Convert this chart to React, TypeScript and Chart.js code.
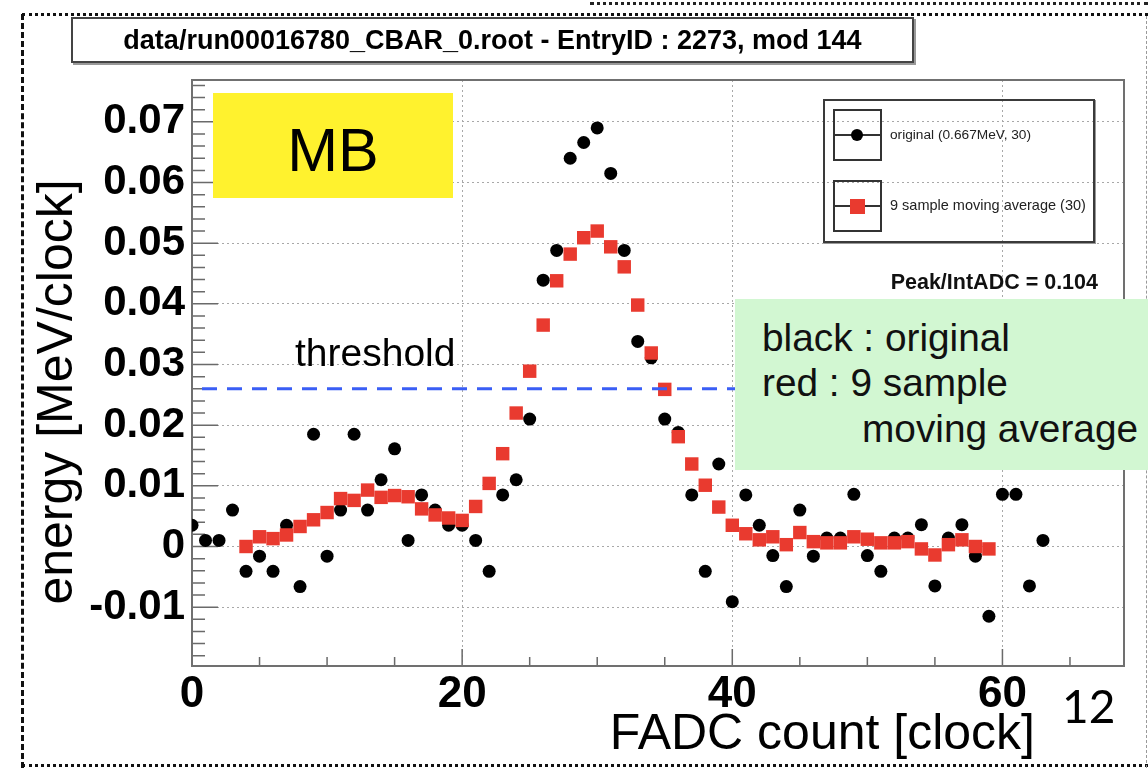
import React, { useEffect, useRef } from 'react';
import { Chart, registerables } from 'chart.js';

Chart.register(...registerables);

// ---------- data ----------
const ORIGINAL_START = 0;
const ORIGINAL = [
  0.0035, 0.001, 0.001, 0.006, -0.0041, -0.0016, -0.0041, 0.0035, -0.0066, 0.0185,
  -0.0016, 0.006, 0.0185, 0.006, 0.011, 0.0161, 0.001, 0.0085, 0.006, 0.0035,
  0.0035, 0.001, -0.0041, 0.0085, 0.011, 0.021, 0.0439, 0.0488, 0.064, 0.0666,
  0.069, 0.0615, 0.0488, 0.0338, 0.0311, 0.021, 0.0188, 0.0085, -0.0041, 0.0136,
  -0.0091, 0.0085, 0.0035, -0.0015, -0.0066, 0.006, -0.0016, 0.0014, 0.0014, 0.0086,
  -0.0015, -0.0041, 0.0014, 0.0014, 0.0036, -0.0065, 0.0014, 0.0036, -0.0016, -0.0115,
  0.0086, 0.0086, -0.0065, 0.001,
];

const MOVING_AVG_START = 4;
const MOVING_AVG = [
  0.0, 0.0016, 0.0013, 0.0019, 0.0033, 0.0044, 0.0056, 0.0079, 0.0076, 0.0093,
  0.0081, 0.0084, 0.0082, 0.0062, 0.0052, 0.0047, 0.0043, 0.0066, 0.0104, 0.0153,
  0.022, 0.0289, 0.0365, 0.0438, 0.0482, 0.0509, 0.052, 0.0494, 0.0461, 0.0398,
  0.0319, 0.0259, 0.0181, 0.0136, 0.0101, 0.0065, 0.0035, 0.0021, 0.0011, 0.0016,
  0.0003, 0.0023, 0.0008, 0.0006, 0.0006, 0.0016, 0.0012, 0.0006, 0.0006, 0.0008,
  -0.0004, -0.0014, 0.0003, 0.0011, 0.0, -0.0004,
];

const THRESHOLD = 0.026;
const X_TICKS = [0, 20, 40, 60];
const Y_TICKS = [-0.01, 0, 0.01, 0.02, 0.03, 0.04, 0.05, 0.06, 0.07];
const X_MIN = 0;
const X_MAX = 69;
const Y_MIN = -0.0197;
const Y_MAX = 0.0769;
const X_MINOR_STEP = 5;
const Y_MINOR_STEP = 0.002;

const TITLE = 'data/run00016780_CBAR_0.root - EntryID : 2273, mod 144';
const LEGEND_ORIGINAL = 'original (0.667MeV, 30)';
const LEGEND_AVG = '9 sample moving average (30)';
const PEAK_TEXT = 'Peak/IntADC = 0.104';
const X_TITLE = 'FADC count [clock]';
const Y_TITLE = 'energy [MeV/clock]';

const FONT = '"Liberation Sans", Arial, Helvetica, sans-serif';
const RED = '#e93a2f';
const W = 1148;
const H = 768;

// ---------- plugin: ROOT-like frame with inner ticks ----------
const frameTicks = {
  id: 'frameTicks',
  beforeDatasetsDraw(chart: any) {
    const { ctx, chartArea: a, scales } = chart;
    const x = scales.x;
    const y = scales.y;
    ctx.save();
    ctx.strokeStyle = '#6a6a6a';
    ctx.lineWidth = 1.5;
    ctx.beginPath();
    for (let v = X_MIN; v <= X_MAX + 1e-9; v += X_MINOR_STEP) {
      const px = x.getPixelForValue(v);
      const len = X_TICKS.includes(v) ? 17 : 9;
      ctx.moveTo(px, a.bottom);
      ctx.lineTo(px, a.bottom - len);
    }
    const k0 = Math.ceil(Y_MIN / Y_MINOR_STEP - 1e-9);
    for (let k = k0; k * Y_MINOR_STEP <= Y_MAX + 1e-9; k++) {
      const v = k * Y_MINOR_STEP;
      const major = k % 5 === 0;
      const py = y.getPixelForValue(v);
      ctx.moveTo(a.left, py);
      ctx.lineTo(a.left + (major ? 26 : 13), py);
    }
    ctx.stroke();
    ctx.lineWidth = 2;
    ctx.strokeStyle = '#707070';
    ctx.strokeRect(a.left, a.top, a.right - a.left, a.bottom - a.top);
    ctx.restore();
  },
};

// ---------- text helper (positions by baseline) ----------
function Txt(props: {
  x: number; base: number; size: number; weight?: any; align?: 'left' | 'right' | 'center';
  family?: string; color?: string; children: any;
}) {
  const { x, base, size, weight = 'normal', align = 'left', family = FONT, color = '#000' } = props;
  const top = base - 0.8465 * size;
  const style: any = {
    position: 'absolute', top, fontSize: size, lineHeight: `${size}px`, fontFamily: family,
    fontWeight: weight, color, whiteSpace: 'nowrap',
  };
  if (align === 'left') style.left = x;
  else if (align === 'right') style.right = W - x;
  else { style.left = x - 600; style.width = 1200; style.textAlign = 'center'; }
  return <div style={style}>{props.children}</div>;
}

export default function App() {
  const canvasRef = useRef<HTMLCanvasElement | null>(null);

  useEffect(() => {
    const canvas = canvasRef.current;
    if (!canvas) return;
    const tickFont = (size: number) => ({ family: FONT, size, weight: 'bold' as const });
    const chart = new Chart(canvas, {
      type: 'scatter',
      data: {
        datasets: [
          {
            label: 'threshold',
            data: [{ x: X_MIN, y: THRESHOLD }, { x: X_MAX, y: THRESHOLD }],
            showLine: true,
            borderColor: '#3a5ef5',
            borderWidth: 3,
            borderDash: [15, 10],
            borderDashOffset: 15,
            pointRadius: 0,
            order: 0,
          } as any,
          {
            label: LEGEND_AVG,
            data: MOVING_AVG.map((v, i) => ({ x: MOVING_AVG_START + i, y: v })),
            pointStyle: 'rect',
            pointRadius: 9.5,
            backgroundColor: RED,
            borderWidth: 0,
            order: 1,
          } as any,
          {
            label: LEGEND_ORIGINAL,
            data: ORIGINAL.map((v, i) => ({ x: ORIGINAL_START + i, y: v })),
            pointStyle: 'circle',
            pointRadius: 6.5,
            backgroundColor: '#000',
            borderWidth: 0,
            order: 2,
          } as any,
        ],
      },
      options: {
        responsive: false,
        animation: false,
        events: [],
        layout: { padding: { left: 0, top: 80, right: 24, bottom: 0 } },
        plugins: {
          legend: { display: false },
          tooltip: { enabled: false },
          title: { display: false },
        },
        scales: {
          x: {
            type: 'linear',
            min: X_MIN,
            max: X_MAX,
            afterBuildTicks: (s: any) => { s.ticks = X_TICKS.map((v) => ({ value: v })); },
            afterFit: (s: any) => { s.height = 102; },
            grid: {
              color: (c: any) => (c.tick && c.tick.value === X_MIN ? 'rgba(0,0,0,0)' : '#a8a8a8'),
              lineWidth: 1,
              drawTicks: false,
            },
            border: { display: false, dash: [2, 3] },
            ticks: {
              font: tickFont(44),
              color: '#000',
              padding: 2,
              maxRotation: 0,
              autoSkip: false,
              callback: (v: any) => String(v),
            },
          },
          y: {
            type: 'linear',
            min: Y_MIN,
            max: Y_MAX,
            afterBuildTicks: (s: any) => { s.ticks = Y_TICKS.map((v) => ({ value: v })); },
            afterFit: (s: any) => { s.width = 192; },
            grid: { color: '#a8a8a8', lineWidth: 1, drawTicks: false },
            border: { display: false, dash: [2, 3] },
            ticks: {
              font: tickFont(42),
              color: '#000',
              padding: 7,
              autoSkip: false,
              callback: (v: any) => (Number(v) === 0 ? '0' : Number(v).toFixed(2)),
            },
          },
        },
      } as any,
      plugins: [frameTicks],
    });
    return () => chart.destroy();
  }, []);

  return (
    <div style={{ position: 'fixed', left: 0, top: 0, width: W, height: H, background: '#fff', overflow: 'hidden', fontFamily: FONT }}>
      <canvas ref={canvasRef} width={W} height={H} style={{ position: 'absolute', left: 0, top: 0, width: W, height: H }} />

      {/* slide frame decorations */}
      <div style={{ position: 'absolute', left: 590, right: 0, top: 2, borderTop: '3px dotted #222' }} />
      <div style={{ position: 'absolute', left: 22, right: 0, top: 13, borderTop: '3px dotted #111' }} />
      <div style={{ position: 'absolute', left: 21, top: 14, bottom: 0, borderLeft: '3px dashed #111' }} />
      <div style={{ position: 'absolute', left: 22, right: 0, top: 764, borderTop: '3px dotted #111' }} />
      <div style={{ position: 'absolute', left: 1146, top: 16, bottom: 0, borderLeft: '1px dashed #999' }} />

      {/* title box */}
      <div style={{ position: 'absolute', left: 71, top: 17, width: 843, height: 46, boxSizing: 'border-box', border: '2px solid #444', boxShadow: '2px 2px 0 #999', background: '#fff' }} />
      <Txt x={492.5} base={50} size={27} weight="bold" align="center">{TITLE}</Txt>

      {/* MB box */}
      <div style={{ position: 'absolute', left: 213, top: 93, width: 240, height: 105, background: '#fff22e' }} />
      <Txt x={333} base={172} size={61} align="center">MB</Txt>

      {/* threshold label */}
      <Txt x={295} base={366} size={39}>threshold</Txt>

      {/* legend */}
      <div style={{ position: 'absolute', left: 823, top: 99, width: 272, height: 144, boxSizing: 'border-box', border: '2px solid #3a3a3a', boxShadow: '1px 1px 0 #999' }} />
      <div style={{ position: 'absolute', left: 833, top: 109, width: 49, height: 52, boxSizing: 'border-box', border: '2px solid #333' }} />
      <div style={{ position: 'absolute', left: 833, top: 134, width: 49, height: 0, borderTop: '2px solid #333' }} />
      <div style={{ position: 'absolute', left: 851, top: 129, width: 12, height: 12, borderRadius: '50%', background: '#000' }} />
      <div style={{ position: 'absolute', left: 833, top: 180, width: 49, height: 52, boxSizing: 'border-box', border: '2px solid #333' }} />
      <div style={{ position: 'absolute', left: 833, top: 205, width: 49, height: 0, borderTop: '2px solid #333' }} />
      <div style={{ position: 'absolute', left: 850, top: 199, width: 15, height: 15, background: RED }} />
      <Txt x={890} base={140} size={13.7} color="#222">{LEGEND_ORIGINAL}</Txt>
      <Txt x={890} base={210} size={14.5} color="#222">{LEGEND_AVG}</Txt>

      <Txt x={1098} base={290} size={21.5} weight="bold" align="right" color="#111">{PEAK_TEXT}</Txt>

      {/* green note */}
      <div style={{ position: 'absolute', left: 735, top: 299, width: 413, height: 171, background: '#d2f7d2' }} />
      <Txt x={762} base={352} size={38.8} color="#111">black : original</Txt>
      <Txt x={762} base={397} size={38.8} color="#111">red : 9 sample</Txt>
      <Txt x={862} base={443} size={38.8} color="#111">moving average</Txt>

      {/* axis titles */}
      <div style={{ position: 'absolute', left: 54.7 - 300, top: 392 - 25, width: 600, height: 50, lineHeight: '50px', fontSize: 50, fontFamily: FONT, textAlign: 'center', whiteSpace: 'nowrap', transform: 'rotate(-90deg)', color: '#000' }}>{Y_TITLE}</div>
      <Txt x={1035} base={749} size={50} align="right">{X_TITLE}</Txt>

      {/* slide number */}
      <Txt x={1062} base={722} size={46} family='Lato, "Open Sans", sans-serif'>12</Txt>
    </div>
  );
}
